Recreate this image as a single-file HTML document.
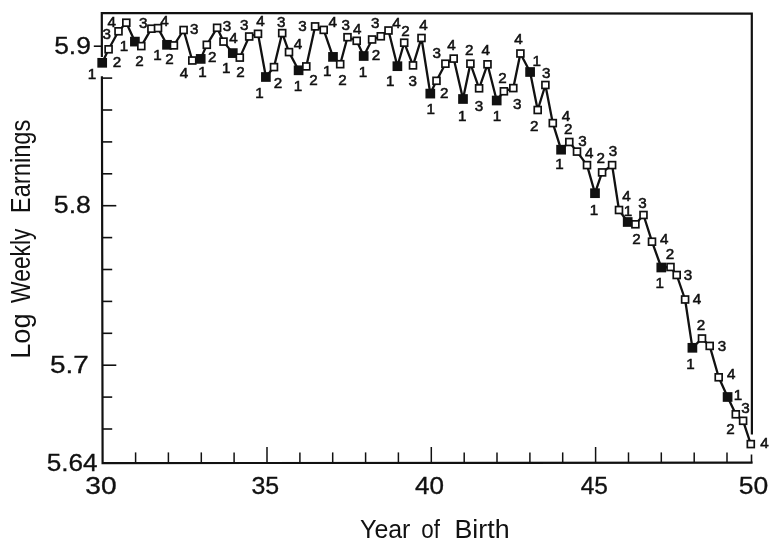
<!DOCTYPE html>
<html lang="en"><head><meta charset="utf-8"><title>Log Weekly Earnings by Year of Birth</title>
<style>html,body{margin:0;padding:0;background:#fff;}body{width:779px;height:550px;overflow:hidden;}svg{display:block;}text{font-family:"Liberation Sans",sans-serif;fill:#111;}</style></head><body>
<svg width="779" height="550" viewBox="0 0 779 550">
<rect width="779" height="550" fill="#fff"/>
<g stroke="#111" stroke-width="2.2" fill="none" stroke-linecap="butt">
<path d="M101.88 57 L101.80 13.0 L751.8 13.6 L751.9 434.5" stroke-linejoin="miter"/>
<path d="M101.91 76.3 L102.60 463.1 L752.6 462.60" stroke-linejoin="miter"/>
<path d="M93.8 46.2 H101.9" stroke-width="1.6"/>
<path d="M101.9 78.1 H112.2" stroke-width="1.6"/>
<path d="M102.0 110.0 H112.2" stroke-width="1.6"/>
<path d="M102.0 141.9 H112.2" stroke-width="1.6"/>
<path d="M102.1 173.8 H112.2" stroke-width="1.6"/>
<path d="M102.1 205.7 H116.3" stroke-width="1.6"/>
<path d="M102.2 237.6 H112.2" stroke-width="1.6"/>
<path d="M102.3 269.5 H112.2" stroke-width="1.6"/>
<path d="M102.3 301.4 H112.2" stroke-width="1.6"/>
<path d="M102.4 333.3 H112.2" stroke-width="1.6"/>
<path d="M102.4 365.2 H116.3" stroke-width="1.6"/>
<path d="M102.5 397.1 H112.2" stroke-width="1.6"/>
<path d="M102.5 429.0 H112.2" stroke-width="1.6"/>
<path d="M135.6 463.1 V452.4" stroke-width="1.5"/>
<path d="M168.4 463.0 V452.4" stroke-width="1.5"/>
<path d="M201.3 463.0 V452.4" stroke-width="1.5"/>
<path d="M234.1 463.0 V452.4" stroke-width="1.5"/>
<path d="M267.0 463.0 V447.0" stroke-width="1.5"/>
<path d="M299.9 462.9 V452.4" stroke-width="1.5"/>
<path d="M332.7 462.9 V452.4" stroke-width="1.5"/>
<path d="M365.6 462.9 V452.4" stroke-width="1.5"/>
<path d="M398.4 462.9 V452.4" stroke-width="1.5"/>
<path d="M431.3 462.8 V447.0" stroke-width="1.5"/>
<path d="M464.2 462.8 V452.4" stroke-width="1.5"/>
<path d="M497.0 462.8 V452.4" stroke-width="1.5"/>
<path d="M529.9 462.8 V452.4" stroke-width="1.5"/>
<path d="M562.7 462.7 V452.4" stroke-width="1.5"/>
<path d="M595.6 462.7 V447.0" stroke-width="1.5"/>
<path d="M628.5 462.7 V452.4" stroke-width="1.5"/>
<path d="M661.3 462.7 V452.4" stroke-width="1.5"/>
<path d="M694.2 462.6 V452.4" stroke-width="1.5"/>
<path d="M727.0 462.6 V452.4" stroke-width="1.5"/>
<path d="M751.5 462.6 V454.5" stroke-width="1.6"/>
</g>
<path d="M102.2 62.8 L108.6 49.3 L118.5 31.3 L126.3 22.7 L134.9 41.6 L141.3 46.1 L151.4 28.7 L158.0 28.1 L167.0 44.8 L173.9 45.4 L183.6 30.0 L192.3 60.5 L200.7 58.9 L206.8 44.8 L217.1 27.8 L223.5 41.6 L232.8 53.1 L239.8 57.6 L249.2 36.5 L258.0 33.8 L265.9 77.0 L274.0 67.1 L282.2 33.1 L289.0 52.1 L298.6 70.3 L306.3 66.4 L315.1 26.4 L323.7 29.9 L333.0 56.9 L340.2 64.2 L347.5 37.2 L356.7 40.8 L363.7 56.0 L372.1 39.5 L380.8 36.3 L388.5 30.5 L397.4 66.2 L404.2 42.7 L413.0 65.4 L421.5 38.0 L430.3 93.6 L436.5 80.8 L445.4 63.7 L453.7 58.6 L463.0 99.0 L470.4 63.7 L479.1 88.3 L487.5 64.3 L496.7 100.5 L503.9 91.3 L513.3 88.1 L520.4 53.5 L530.1 72.0 L537.7 110.0 L545.4 85.0 L552.8 123.1 L561.1 149.7 L569.3 142.0 L577.0 151.6 L587.0 165.1 L595.0 193.2 L602.1 172.4 L612.1 165.1 L619.0 210.0 L627.7 222.0 L635.4 224.3 L643.5 215.0 L652.0 241.7 L661.3 267.5 L670.5 267.0 L676.7 275.0 L685.1 299.5 L692.4 347.8 L702.0 338.5 L709.7 345.9 L718.7 377.3 L727.6 397.0 L735.8 414.3 L743.1 420.8 L750.8 444.1" fill="none" stroke="#111" stroke-width="2.3" stroke-linejoin="round"/>
<g stroke="#111" stroke-width="1.7">
<rect x="98.2" y="58.8" width="8" height="8" fill="#111"/>
<rect x="105.15" y="45.85" width="6.9" height="6.9" fill="#fff"/>
<rect x="115.05" y="27.85" width="6.9" height="6.9" fill="#fff"/>
<rect x="122.85" y="19.25" width="6.9" height="6.9" fill="#fff"/>
<rect x="130.9" y="37.6" width="8" height="8" fill="#111"/>
<rect x="137.85" y="42.65" width="6.9" height="6.9" fill="#fff"/>
<rect x="147.95" y="25.25" width="6.9" height="6.9" fill="#fff"/>
<rect x="154.55" y="24.65" width="6.9" height="6.9" fill="#fff"/>
<rect x="163.0" y="40.8" width="8" height="8" fill="#111"/>
<rect x="170.45" y="41.95" width="6.9" height="6.9" fill="#fff"/>
<rect x="180.15" y="26.55" width="6.9" height="6.9" fill="#fff"/>
<rect x="188.85" y="57.05" width="6.9" height="6.9" fill="#fff"/>
<rect x="196.7" y="54.9" width="8" height="8" fill="#111"/>
<rect x="203.35" y="41.35" width="6.9" height="6.9" fill="#fff"/>
<rect x="213.65" y="24.35" width="6.9" height="6.9" fill="#fff"/>
<rect x="220.05" y="38.15" width="6.9" height="6.9" fill="#fff"/>
<rect x="228.8" y="49.1" width="8" height="8" fill="#111"/>
<rect x="236.35" y="54.15" width="6.9" height="6.9" fill="#fff"/>
<rect x="245.75" y="33.05" width="6.9" height="6.9" fill="#fff"/>
<rect x="254.55" y="30.35" width="6.9" height="6.9" fill="#fff"/>
<rect x="261.9" y="73.0" width="8" height="8" fill="#111"/>
<rect x="270.55" y="63.65" width="6.9" height="6.9" fill="#fff"/>
<rect x="278.75" y="29.65" width="6.9" height="6.9" fill="#fff"/>
<rect x="285.55" y="48.65" width="6.9" height="6.9" fill="#fff"/>
<rect x="294.6" y="66.3" width="8" height="8" fill="#111"/>
<rect x="302.85" y="62.95" width="6.9" height="6.9" fill="#fff"/>
<rect x="311.65" y="22.95" width="6.9" height="6.9" fill="#fff"/>
<rect x="320.25" y="26.45" width="6.9" height="6.9" fill="#fff"/>
<rect x="329.0" y="52.9" width="8" height="8" fill="#111"/>
<rect x="336.75" y="60.75" width="6.9" height="6.9" fill="#fff"/>
<rect x="344.05" y="33.75" width="6.9" height="6.9" fill="#fff"/>
<rect x="353.25" y="37.35" width="6.9" height="6.9" fill="#fff"/>
<rect x="359.7" y="52.0" width="8" height="8" fill="#111"/>
<rect x="368.65" y="36.05" width="6.9" height="6.9" fill="#fff"/>
<rect x="377.35" y="32.85" width="6.9" height="6.9" fill="#fff"/>
<rect x="385.05" y="27.05" width="6.9" height="6.9" fill="#fff"/>
<rect x="393.4" y="62.2" width="8" height="8" fill="#111"/>
<rect x="400.75" y="39.25" width="6.9" height="6.9" fill="#fff"/>
<rect x="409.55" y="61.95" width="6.9" height="6.9" fill="#fff"/>
<rect x="418.05" y="34.55" width="6.9" height="6.9" fill="#fff"/>
<rect x="426.3" y="89.6" width="8" height="8" fill="#111"/>
<rect x="433.05" y="77.35" width="6.9" height="6.9" fill="#fff"/>
<rect x="441.95" y="60.25" width="6.9" height="6.9" fill="#fff"/>
<rect x="450.25" y="55.15" width="6.9" height="6.9" fill="#fff"/>
<rect x="459.0" y="95.0" width="8" height="8" fill="#111"/>
<rect x="466.95" y="60.25" width="6.9" height="6.9" fill="#fff"/>
<rect x="475.65" y="84.85" width="6.9" height="6.9" fill="#fff"/>
<rect x="484.05" y="60.85" width="6.9" height="6.9" fill="#fff"/>
<rect x="492.7" y="96.5" width="8" height="8" fill="#111"/>
<rect x="500.45" y="87.85" width="6.9" height="6.9" fill="#fff"/>
<rect x="509.85" y="84.65" width="6.9" height="6.9" fill="#fff"/>
<rect x="516.95" y="50.05" width="6.9" height="6.9" fill="#fff"/>
<rect x="526.1" y="68.0" width="8" height="8" fill="#111"/>
<rect x="534.25" y="106.55" width="6.9" height="6.9" fill="#fff"/>
<rect x="541.95" y="81.55" width="6.9" height="6.9" fill="#fff"/>
<rect x="549.35" y="119.65" width="6.9" height="6.9" fill="#fff"/>
<rect x="557.1" y="145.7" width="8" height="8" fill="#111"/>
<rect x="565.85" y="138.55" width="6.9" height="6.9" fill="#fff"/>
<rect x="573.55" y="148.15" width="6.9" height="6.9" fill="#fff"/>
<rect x="583.55" y="161.65" width="6.9" height="6.9" fill="#fff"/>
<rect x="591.0" y="189.2" width="8" height="8" fill="#111"/>
<rect x="598.65" y="168.95" width="6.9" height="6.9" fill="#fff"/>
<rect x="608.65" y="161.65" width="6.9" height="6.9" fill="#fff"/>
<rect x="615.55" y="206.55" width="6.9" height="6.9" fill="#fff"/>
<rect x="623.7" y="218.0" width="8" height="8" fill="#111"/>
<rect x="631.95" y="220.85" width="6.9" height="6.9" fill="#fff"/>
<rect x="640.05" y="211.55" width="6.9" height="6.9" fill="#fff"/>
<rect x="648.55" y="238.25" width="6.9" height="6.9" fill="#fff"/>
<rect x="657.3" y="263.5" width="8" height="8" fill="#111"/>
<rect x="667.05" y="263.55" width="6.9" height="6.9" fill="#fff"/>
<rect x="673.25" y="271.55" width="6.9" height="6.9" fill="#fff"/>
<rect x="681.65" y="296.05" width="6.9" height="6.9" fill="#fff"/>
<rect x="688.4" y="343.8" width="8" height="8" fill="#111"/>
<rect x="698.55" y="335.05" width="6.9" height="6.9" fill="#fff"/>
<rect x="706.25" y="342.45" width="6.9" height="6.9" fill="#fff"/>
<rect x="715.25" y="373.85" width="6.9" height="6.9" fill="#fff"/>
<rect x="723.6" y="393.0" width="8" height="8" fill="#111"/>
<rect x="732.35" y="410.85" width="6.9" height="6.9" fill="#fff"/>
<rect x="739.65" y="417.35" width="6.9" height="6.9" fill="#fff"/>
<rect x="747.35" y="440.65" width="6.9" height="6.9" fill="#fff"/>
</g>
<g font-size="15.2" text-anchor="middle" stroke="#111" stroke-width="0.55">
<text x="92.1" y="79.4">1</text>
<text x="117.0" y="66.9">2</text>
<text x="106.7" y="39.3">3</text>
<text x="111.8" y="27.1">4</text>
<text x="124.0" y="51.4">1</text>
<text x="139.4" y="65.6">2</text>
<text x="143.3" y="27.7">3</text>
<text x="164.5" y="25.8">4</text>
<text x="157.4" y="59.8">1</text>
<text x="169.6" y="63.7">2</text>
<text x="194.3" y="33.5">3</text>
<text x="184.0" y="77.8">4</text>
<text x="202.6" y="77.2">1</text>
<text x="212.2" y="61.7">2</text>
<text x="227.0" y="30.9">3</text>
<text x="233.4" y="42.5">4</text>
<text x="226.3" y="73.3">1</text>
<text x="240.5" y="77.2">2</text>
<text x="244.3" y="29.7">3</text>
<text x="260.5" y="26.1">4</text>
<text x="259.5" y="98.3">1</text>
<text x="278.1" y="88.0">2</text>
<text x="281.3" y="27.0">3</text>
<text x="298.0" y="48.8">4</text>
<text x="298.0" y="91.2">1</text>
<text x="313.4" y="84.8">2</text>
<text x="302.5" y="30.8">3</text>
<text x="332.7" y="27.0">4</text>
<text x="327.3" y="76.0">1</text>
<text x="342.5" y="84.8">2</text>
<text x="345.8" y="29.9">3</text>
<text x="357.3" y="34.0">4</text>
<text x="363.1" y="77.0">1</text>
<text x="376.0" y="59.7">2</text>
<text x="375.3" y="28.2">3</text>
<text x="396.5" y="27.6">4</text>
<text x="390.3" y="86.2">1</text>
<text x="405.5" y="35.9">2</text>
<text x="412.7" y="86.2">3</text>
<text x="423.4" y="30.2">4</text>
<text x="430.7" y="114.4">1</text>
<text x="444.2" y="97.8">2</text>
<text x="436.8" y="58.2">3</text>
<text x="451.6" y="50.4">4</text>
<text x="462.2" y="120.9">1</text>
<text x="469.3" y="55.1">2</text>
<text x="479.1" y="110.5">3</text>
<text x="485.8" y="55.1">4</text>
<text x="496.9" y="120.8">1</text>
<text x="502.4" y="82.8">2</text>
<text x="517.3" y="108.6">3</text>
<text x="518.6" y="44.3">4</text>
<text x="536.8" y="65.8">1</text>
<text x="534.3" y="130.5">2</text>
<text x="546.3" y="78.2">3</text>
<text x="565.9" y="120.8">4</text>
<text x="559.6" y="168.5">1</text>
<text x="568.2" y="134.3">2</text>
<text x="582.5" y="145.7">3</text>
<text x="589.2" y="158.4">4</text>
<text x="593.9" y="214.8">1</text>
<text x="600.7" y="163.4">2</text>
<text x="613.0" y="156.1">3</text>
<text x="626.4" y="201.0">4</text>
<text x="628.0" y="215.7">1</text>
<text x="636.6" y="244.3">2</text>
<text x="642.5" y="207.7">3</text>
<text x="664.3" y="243.6">4</text>
<text x="659.7" y="288.2">1</text>
<text x="670.1" y="259.4">2</text>
<text x="688.1" y="279.7">3</text>
<text x="697.0" y="303.6">4</text>
<text x="690.4" y="369.4">1</text>
<text x="701.0" y="329.9">2</text>
<text x="722.0" y="351.3">3</text>
<text x="731.3" y="379.1">4</text>
<text x="738.0" y="400.4">1</text>
<text x="730.4" y="433.8">2</text>
<text x="745.6" y="412.7">3</text>
<text x="764.5" y="448.3">4</text>
</g>
<g font-size="23.3" stroke="#111" stroke-width="0.3">
<text transform="translate(54.14 54.0) scale(1.133 1)">5.9</text>
<text transform="translate(53.83 213.0) scale(1.146 1)">5.8</text>
<text transform="translate(49.88 373.0) scale(1.198 1)">5.7</text>
<text transform="translate(46.75 470.6) scale(1.123 1)">5.64</text>
<text transform="translate(85.23 494.0) scale(1.211 1)">30</text>
<text transform="translate(251.45 494.0) scale(1.069 1)">35</text>
<text transform="translate(415.00 494.0) scale(1.120 1)">40</text>
<text transform="translate(580.64 494.0) scale(1.053 1)">45</text>
<text transform="translate(738.74 494.0) scale(1.138 1)">50</text>
</g>
<g font-size="26">
<text transform="translate(360.05 537.6) scale(0.959 1)">Year</text>
<text transform="translate(421.36 537.6) scale(0.863 1)">of</text>
<text transform="translate(454.40 537.6) scale(1.032 1)">Birth</text>
</g>
<g font-size="27">
<text transform="translate(30.2 358.84) rotate(-90) scale(1.012 1)">Log</text>
<text transform="translate(30.2 302.91) rotate(-90) scale(0.845 1)">Weekly</text>
<text transform="translate(30.2 213.14) rotate(-90) scale(0.878 1)">Earnings</text>
</g>
</svg></body></html>
